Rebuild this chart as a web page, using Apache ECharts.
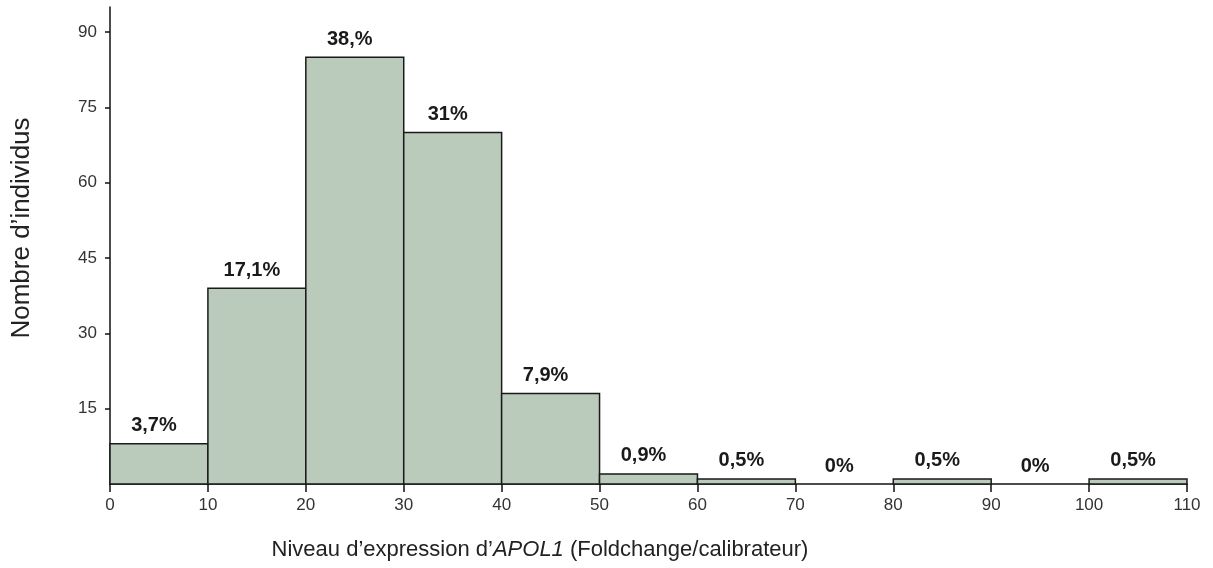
<!DOCTYPE html>
<html>
<head>
<meta charset="utf-8">
<script src="https://cdn.jsdelivr.net/npm/echarts@6/dist/echarts.min.js"></script>
<style>
html,body{margin:0;padding:0;background:#fff;}
#chart{width:1213px;height:568px;}
</style>
</head>
<body>
<div id="chart"></div>
<script>
// Histogram bins (Foldchange/calibrateur)
const binStart = [0, 10, 20, 30, 40, 50, 60, 70, 80, 90, 100];
const binEnd   = [10, 20, 30, 40, 50, 60, 70, 80, 90, 100, 110];
// Number of individuals per bin
const counts   = [8, 39, 85, 70, 18, 2, 1, 0, 1, 0, 1];
// Percentage labels shown above bars
const pctLabels = ['3,7%', '17,1%', '38,%', '31%', '7,9%', '0,9%', '0,5%', '0%', '0,5%', '0%', '0,5%'];
// Axis tick labels
const yTicks = [15, 30, 45, 60, 75, 90];
const xTicks = [0, 10, 20, 30, 40, 50, 60, 70, 80, 90, 100, 110];

const FONT = '"Liberation Sans", Arial, sans-serif';
const data = binStart.map((s, i) => [s, binEnd[i], counts[i]]);

const chart = echarts.init(document.getElementById('chart'));
chart.setOption({
  animation: false,
  backgroundColor: '#ffffff',
  grid: { left: 110, right: 26, top: 7, bottom: 84, containLabel: false },
  xAxis: {
    type: 'value', min: 0, max: 110, interval: 10,
    axisLine: { show: true, lineStyle: { color: '#111', width: 1.5 } },
    axisTick: { show: true, inside: false, length: 8, lineStyle: { color: '#111', width: 1.5 }, customValues: xTicks },
    axisLabel: { color: '#333', fontSize: 17, fontFamily: FONT, margin: 13, customValues: xTicks },
    splitLine: { show: false }
  },
  yAxis: {
    type: 'value', min: 0, max: 95,
    axisLine: { show: true, lineStyle: { color: '#111', width: 1.5 } },
    axisTick: { show: true, inside: false, length: 5, lineStyle: { color: '#111', width: 1.5 }, customValues: yTicks },
    axisLabel: { color: '#333', fontSize: 17, fontFamily: FONT, margin: 13, customValues: yTicks },
    splitLine: { show: false }
  },
  graphic: [
    {
      type: 'text', x: 540, y: 550,
      style: {
        text: 'Niveau d\u2019expression d\u2019{i|APOL1} (Foldchange/calibrateur)',
        fontSize: 22, fontFamily: FONT, fill: '#222',
        align: 'center', verticalAlign: 'middle',
        rich: { i: { fontStyle: 'italic', fontSize: 22, fontFamily: FONT, fill: '#222' } }
      }
    },
    {
      type: 'text', x: 22, y: 228, rotation: Math.PI / 2,
      style: {
        text: 'Nombre d\u2019individus',
        fontSize: 26, fontFamily: FONT, fill: '#222',
        align: 'center', verticalAlign: 'middle'
      }
    }
  ],
  series: [{
    type: 'custom',
    data: data,
    encode: { x: [0, 1], y: 2 },
    clip: false,
    renderItem: function (params, api) {
      const x0 = api.value(0), x1 = api.value(1), v = api.value(2);
      const tl = api.coord([x0, v]);
      const br = api.coord([x1, 0]);
      const children = [];
      if (v > 0) {
        children.push({
          type: 'rect',
          shape: { x: tl[0], y: tl[1], width: br[0] - tl[0], height: br[1] - tl[1] },
          style: { fill: '#bacbbb', stroke: '#1a1a1a', lineWidth: 1.5 }
        });
      }
      children.push({
        type: 'text',
        x: (tl[0] + br[0]) / 2 - 5,
        y: tl[1] - 8,
        style: {
          text: pctLabels[params.dataIndex],
          fontSize: 20, fontWeight: 'bold', fontFamily: FONT, fill: '#1a1a1a',
          align: 'center', verticalAlign: 'bottom'
        }
      });
      return { type: 'group', children: children };
    }
  }]
});
</script>
</body>
</html>
